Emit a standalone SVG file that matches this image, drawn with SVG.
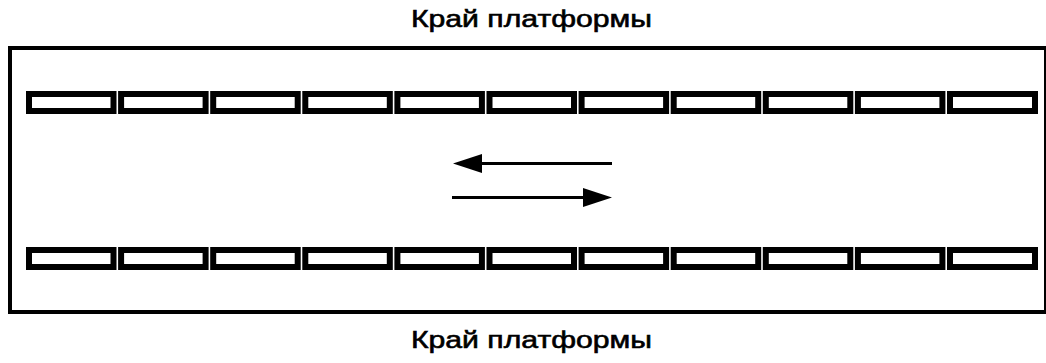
<svg xmlns="http://www.w3.org/2000/svg" width="1046" height="363" viewBox="0 0 1046 363">
<style>
.lbl{font-family:"Liberation Sans",Arial,sans-serif;font-size:24px;fill:#000;stroke:#000;stroke-width:0.6}
.frame{fill:none;stroke:#000;stroke-width:4}
.slab{fill:#fff;stroke:#000;stroke-width:6}
.ln{stroke:#000;stroke-width:3;fill:none}
.hd{fill:#000}
</style>
<rect width="1046" height="363" fill="#fff"/>
<g id="platform">
<rect class="frame" x="10" y="48" width="1036" height="264"/>
</g>
<g id="label-top"><text class="lbl" x="411" y="27" textLength="241" lengthAdjust="spacingAndGlyphs">Край платформы</text></g>
<g id="label-bottom"><text class="lbl" x="411" y="348" textLength="241" lengthAdjust="spacingAndGlyphs">Край платформы</text></g>
<g id="row-top">
<rect class="slab" x="29" y="94" width="84.5" height="17"/>
<rect class="slab" x="121.1" y="94" width="84.5" height="17"/>
<rect class="slab" x="213.2" y="94" width="84.5" height="17"/>
<rect class="slab" x="305.3" y="94" width="84.5" height="17"/>
<rect class="slab" x="397.4" y="94" width="84.5" height="17"/>
<rect class="slab" x="489.5" y="94" width="84.5" height="17"/>
<rect class="slab" x="581.6" y="94" width="84.5" height="17"/>
<rect class="slab" x="673.7" y="94" width="84.5" height="17"/>
<rect class="slab" x="765.8" y="94" width="84.5" height="17"/>
<rect class="slab" x="857.9" y="94" width="84.5" height="17"/>
<rect class="slab" x="950" y="94" width="85" height="17"/>
</g>
<g id="row-bottom">
<rect class="slab" x="29" y="250" width="84.5" height="17"/>
<rect class="slab" x="121.1" y="250" width="84.5" height="17"/>
<rect class="slab" x="213.2" y="250" width="84.5" height="17"/>
<rect class="slab" x="305.3" y="250" width="84.5" height="17"/>
<rect class="slab" x="397.4" y="250" width="84.5" height="17"/>
<rect class="slab" x="489.5" y="250" width="84.5" height="17"/>
<rect class="slab" x="581.6" y="250" width="84.5" height="17"/>
<rect class="slab" x="673.7" y="250" width="84.5" height="17"/>
<rect class="slab" x="765.8" y="250" width="84.5" height="17"/>
<rect class="slab" x="857.9" y="250" width="84.5" height="17"/>
<rect class="slab" x="950" y="250" width="85" height="17"/>
</g>
<g id="connectors">
<line class="ln" x1="478" y1="163.5" x2="612" y2="163.5"/>
<polygon class="hd" points="453,163.5 482,154 482,173"/>
<line class="ln" x1="452" y1="197.5" x2="586" y2="197.5"/>
<polygon class="hd" points="612,197.5 583,188 583,207"/>
</g>
</svg>
